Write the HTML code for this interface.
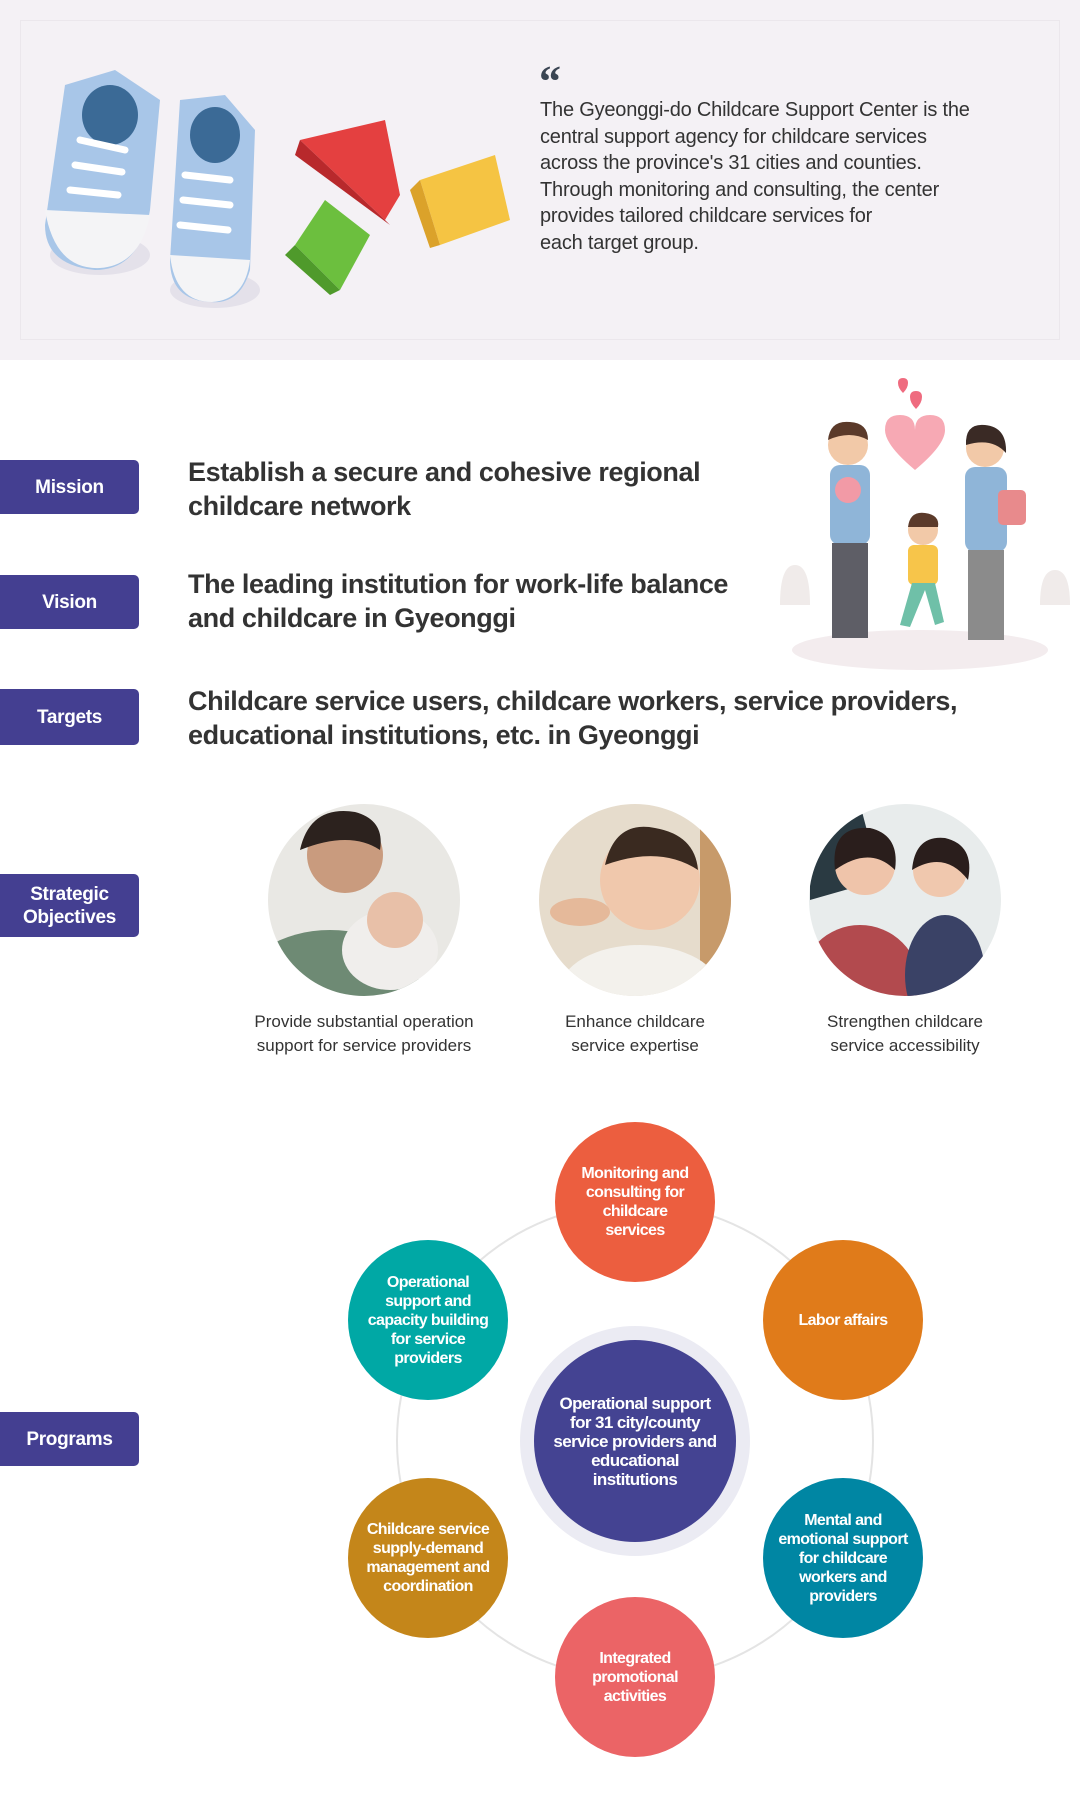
<!DOCTYPE html>
<html><head><meta charset="utf-8"><style>
*{margin:0;padding:0;box-sizing:border-box}
body{width:1080px;height:1807px;background:#fff;position:relative;overflow:hidden;font-family:"Liberation Sans",sans-serif;color:#333}
.abs{position:absolute}
.lbl{position:absolute;left:0;width:139px;background:#443f91;color:#fff;border-radius:0 5px 5px 0;display:flex;align-items:center;justify-content:center;text-align:center;font-size:19px;font-weight:bold;line-height:23px;letter-spacing:-0.3px}
.big{position:absolute;left:188px;font-size:27px;font-weight:bold;line-height:34px;color:#333;letter-spacing:-0.4px}
.cap{position:absolute;width:270px;text-align:center;font-size:17px;line-height:24px;color:#333}
.c{position:absolute;border-radius:50%;display:flex;align-items:center;justify-content:center;text-align:center;color:#fff;font-weight:bold;font-size:16px;line-height:19px;letter-spacing:-0.6px}
</style></head><body>
<div class="abs" style="left:0;top:0;width:1080px;height:360px;background:#f4f1f5"></div>
<div class="abs" style="left:20px;top:20px;width:1040px;height:320px;border:1px solid #ebe7ec"></div>
<svg class="abs" style="left:0;top:0" width="540" height="360">
 <ellipse cx="100" cy="255" rx="50" ry="20" fill="#e4e1ea"/>
 <ellipse cx="215" cy="290" rx="45" ry="18" fill="#e4e1ea"/>
 <path d="M65 85 L115 70 L160 100 L150 210 Q140 270 95 270 Q45 265 45 225 Z" fill="#a8c6e8"/>
 <path d="M45 210 Q55 270 100 268 Q140 265 150 215 Z" fill="#f4f4f6"/>
 <ellipse cx="110" cy="115" rx="28" ry="30" fill="#3b6a96"/>
 <path d="M180 100 L225 95 L255 130 L250 270 Q240 305 210 302 Q170 300 170 260 Z" fill="#a8c6e8"/>
 <path d="M170 255 Q175 302 212 302 Q245 300 250 260 Z" fill="#f4f4f6"/>
 <ellipse cx="215" cy="135" rx="25" ry="28" fill="#3b6a96"/>
 <g stroke="#fff" stroke-width="7" stroke-linecap="round"><line x1="80" y1="140" x2="125" y2="150"/><line x1="75" y1="165" x2="122" y2="172"/><line x1="70" y1="190" x2="118" y2="195"/><line x1="185" y1="175" x2="230" y2="180"/><line x1="183" y1="200" x2="230" y2="205"/><line x1="180" y1="225" x2="228" y2="230"/></g>
 <path d="M300 140 L385 120 L400 195 L385 220 Z" fill="#e44040"/>
 <path d="M300 140 L385 220 L390 225 L295 155Z" fill="#b8292c"/>
 <path d="M295 245 L325 200 L370 235 L340 290 Z" fill="#6cbf3e"/>
 <path d="M295 245 L340 290 L330 295 L285 255Z" fill="#4f9a2b"/>
 <path d="M420 180 L495 155 L510 220 L440 245 Z" fill="#f5c443"/>
 <path d="M420 180 L440 245 L430 248 L410 190Z" fill="#dba22a"/>
</svg>
<div class="abs" style="left:539px;top:56px;font-size:44px;font-weight:bold;color:#3a4553;font-family:'Liberation Serif',serif">&ldquo;</div>
<div class="abs" style="left:540px;top:97px;font-size:20px;line-height:26.6px;color:#333;letter-spacing:-0.2px">The Gyeonggi-do Childcare Support Center is the<br>central support agency for childcare services<br>across the province's 31 cities and counties.<br>Through monitoring and consulting, the center<br>provides tailored childcare services for<br>each target group.</div>

<div class="lbl" style="top:460px;height:54px">Mission</div>
<div class="lbl" style="top:575px;height:54px">Vision</div>
<div class="lbl" style="top:689px;height:56px">Targets</div>
<div class="lbl" style="top:874px;height:63px">Strategic<br>Objectives</div>
<div class="lbl" style="top:1412px;height:54px">Programs</div>

<div class="big" style="top:455px">Establish a secure and cohesive regional<br>childcare network</div>
<div class="big" style="top:567px">The leading institution for work-life balance<br>and childcare in Gyeonggi</div>
<div class="big" style="top:684px">Childcare service users, childcare workers, service providers,<br>educational institutions, etc. in Gyeonggi</div>

<svg class="abs" style="left:770px;top:375px" width="310" height="300">
 <ellipse cx="150" cy="275" rx="128" ry="20" fill="#f3ecee"/>
 <path d="M145 55 Q145 40 160 40 Q175 40 175 55 Q175 70 145 95 Q115 70 115 55 Q115 40 130 40 Q145 40 145 55Z" fill="#f7a9b4"/>
 <path d="M140 22 q0-6 6-6 q6 0 6 6 q0 6-6 12 q-6-6-6-12z" fill="#ef6b7f"/>
 <path d="M128 8 q0-5 5-5 q5 0 5 5 q0 5-5 10 q-5-5-5-10z" fill="#ef6b7f"/>
 <circle cx="78" cy="70" r="20" fill="#f2c9a8"/><path d="M58 65 Q60 45 80 47 Q98 48 98 65 Q80 55 58 65Z" fill="#5b3a2a"/>
 <rect x="60" y="90" width="40" height="80" rx="10" fill="#8fb5d8"/>
 <rect x="62" y="168" width="36" height="95" fill="#5e5e66"/>
 <circle cx="78" cy="115" r="13" fill="#f29aa6"/>
 <circle cx="215" cy="73" r="19" fill="#f2c9a8"/><path d="M196 70 Q195 48 215 50 Q237 52 236 78 Q222 62 196 70Z" fill="#3a2a25"/>
 <rect x="195" y="92" width="42" height="85" rx="10" fill="#8fb5d8"/>
 <rect x="198" y="175" width="36" height="90" fill="#8b8b8b"/>
 <rect x="228" y="115" width="28" height="35" rx="5" fill="#e88a8c"/>
 <circle cx="153" cy="155" r="15" fill="#f2c9a8"/><path d="M138 152 Q140 136 155 138 Q170 140 168 152Z" fill="#5b3a2a"/>
 <rect x="138" y="170" width="30" height="40" rx="6" fill="#f7c54a"/>
 <path d="M142 208 L130 250 L140 252 L155 215 L165 250 L174 247 L165 208Z" fill="#6fc0a8"/>
 <path d="M10 230 Q10 190 25 190 Q40 190 40 230Z" fill="#f0ebea"/>
 <path d="M270 230 Q270 195 285 195 Q300 195 300 230Z" fill="#f0ebea"/>
</svg>

<svg class="abs" style="left:0;top:0" width="1080" height="1807">
 <defs>
  <clipPath id="p1"><circle cx="364" cy="900" r="96"/></clipPath>
  <clipPath id="p2"><circle cx="635" cy="900" r="96"/></clipPath>
  <clipPath id="p3"><circle cx="905" cy="900" r="96"/></clipPath>
 </defs>
 <g clip-path="url(#p1)"><rect x="268" y="804" width="192" height="192" fill="#e9e8e4"/><ellipse cx="330" cy="990" rx="90" ry="60" fill="#6e8a74"/><circle cx="345" cy="855" r="38" fill="#c99b7e"/><path d="M300 850 Q310 805 355 812 Q385 820 380 850 Q350 830 300 850Z" fill="#2c221e"/><ellipse cx="390" cy="950" rx="48" ry="40" fill="#f0eeec"/><circle cx="395" cy="920" r="28" fill="#e8c0a8"/></g>
 <g clip-path="url(#p2)"><rect x="539" y="804" width="192" height="192" fill="#e6dccc"/><rect x="700" y="804" width="40" height="192" fill="#c79a6a"/><ellipse cx="640" cy="990" rx="80" ry="45" fill="#f3f1ec"/><circle cx="650" cy="880" r="50" fill="#f0c8ac"/><path d="M605 865 Q615 820 655 828 Q695 835 698 870 Q660 845 605 865Z" fill="#3a2a20"/><ellipse cx="580" cy="912" rx="30" ry="14" fill="#e5b99a"/></g>
 <g clip-path="url(#p3)"><rect x="809" y="804" width="192" height="192" fill="#e8ecec"/><path d="M810 810 L860 804 L880 880 L810 900Z" fill="#2a3a42"/><ellipse cx="860" cy="985" rx="60" ry="60" fill="#b24a4e"/><circle cx="865" cy="865" r="30" fill="#efc4aa"/><path d="M835 870 Q830 825 870 828 Q900 835 895 870 Q870 845 835 870Z" fill="#2a1e1c"/><ellipse cx="945" cy="975" rx="40" ry="60" fill="#3a4266"/><circle cx="940" cy="870" r="27" fill="#f0c8ae"/><path d="M912 870 Q915 835 945 838 Q975 845 968 880 Q945 850 912 870Z" fill="#2a1e1c"/></g>

 <circle cx="635" cy="1441" r="238" fill="none" stroke="#e4e4e4" stroke-width="2"/>
</svg>
<div class="cap" style="left:229px;top:1010px">Provide substantial operation<br>support for service providers</div>
<div class="cap" style="left:500px;top:1010px">Enhance childcare<br>service expertise</div>
<div class="cap" style="left:770px;top:1010px">Strengthen childcare<br>service accessibility</div>

<div class="c" style="left:520px;top:1326px;width:230px;height:230px;background:#ebebf3"></div>
<div class="c" style="left:534px;top:1340px;width:202px;height:202px;background:#444392;font-size:17px;line-height:19px">Operational support<br>for 31 city/county<br>service providers and<br>educational<br>institutions</div>
<div class="c" style="left:555px;top:1122px;width:160px;height:160px;background:#ec5e3f">Monitoring and<br>consulting for<br>childcare<br>services</div>
<div class="c" style="left:763px;top:1240px;width:160px;height:160px;background:#e07b1a">Labor affairs</div>
<div class="c" style="left:763px;top:1478px;width:160px;height:160px;background:#0086a3">Mental and<br>emotional support<br>for childcare<br>workers and<br>providers</div>
<div class="c" style="left:555px;top:1597px;width:160px;height:160px;background:#eb6466">Integrated<br>promotional<br>activities</div>
<div class="c" style="left:348px;top:1478px;width:160px;height:160px;background:#c4861a">Childcare service<br>supply-demand<br>management and<br>coordination</div>
<div class="c" style="left:348px;top:1240px;width:160px;height:160px;background:#00a8a5">Operational<br>support and<br>capacity building<br>for service<br>providers</div>
</body></html>
